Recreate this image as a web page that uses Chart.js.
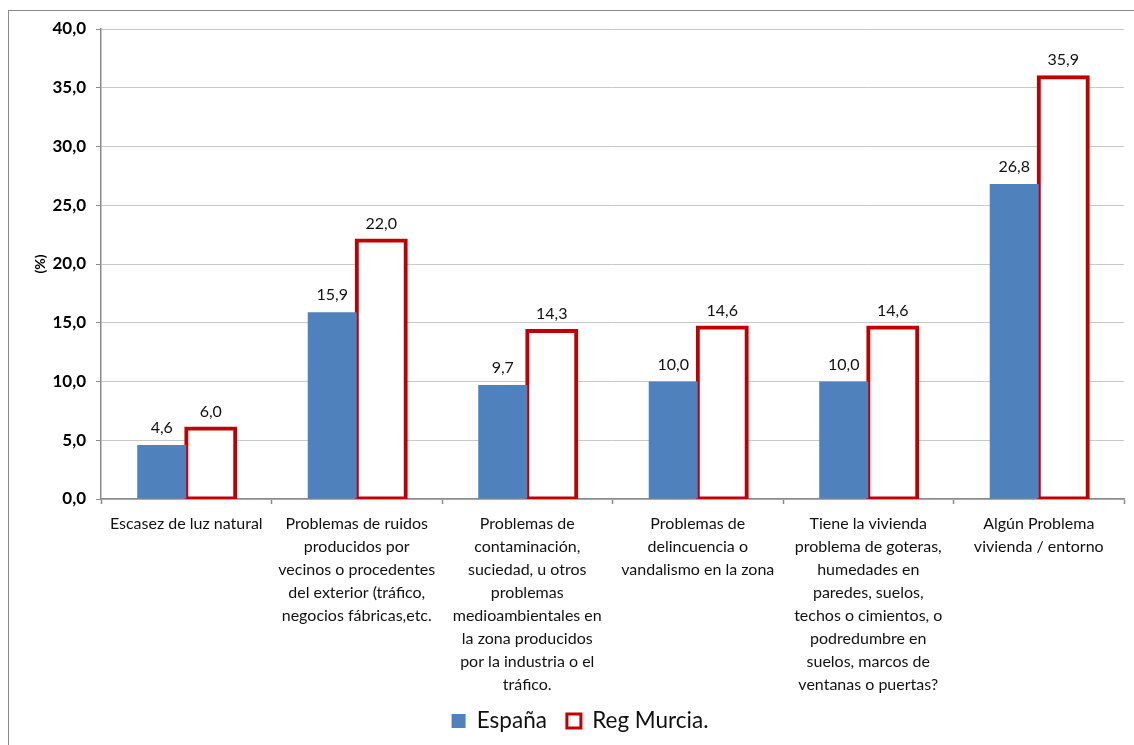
<!DOCTYPE html>
<html>
<head>
<meta charset="utf-8">
<script src="https://cdn.jsdelivr.net/npm/chart.js@4.4.1/dist/chart.umd.min.js"></script>
<style>
  html, body { margin: 0; padding: 0; background: #fff; }
  #wrap { position: relative; width: 1134px; height: 745px; overflow: hidden; background: #fff; }
  #frame { position: absolute; left: 8px; top: 10px; width: 2000px; height: 2000px;
           border-left: 1px solid #8a8a8a; border-top: 1px solid #8a8a8a; }
  #chart { position: absolute; left: 0; top: 0; }
</style>
</head>
<body>
<div id="wrap">
  <div id="frame"></div>
  <canvas id="chart" width="1134" height="745"></canvas>
</div>
<script>
const categories = [
  ["Escasez de luz natural"],
  ["Problemas de ruidos", "producidos por", "vecinos o procedentes", "del exterior (tráfico,", "negocios fábricas,etc."],
  ["Problemas de", "contaminación,", "suciedad, u otros", "problemas", "medioambientales en", "la zona producidos", "por la industria o el", "tráfico."],
  ["Problemas de", "delincuencia o", "vandalismo en la zona"],
  ["Tiene la vivienda", "problema de goteras,", "humedades en", "paredes, suelos,", "techos o cimientos, o", "podredumbre en", "suelos, marcos de", "ventanas o puertas?"],
  ["Algún Problema", "vivienda / entorno"]
];
const seriesNames = ["España", "Reg Murcia."];
const espana = [4.6, 15.9, 9.7, 10.0, 10.0, 26.8];
const murcia = [6.0, 22.0, 14.3, 14.6, 14.6, 35.9];
const yTicks = [0, 5, 10, 15, 20, 25, 30, 35, 40];
const yTitle = "(%)";

const FONT = "Lato, 'Open Sans', sans-serif";
const fmt = v => v.toFixed(1).replace('.', ',');

const dataLabels = {
  id: 'dataLabels',
  afterDatasetsDraw(chart) {
    const ctx = chart.ctx;
    ctx.save();
    ctx.font = "16px " + FONT;
    ctx.fillStyle = "#111";
    ctx.textAlign = "center";
    ctx.textBaseline = "middle";
    chart.data.datasets.forEach((ds, di) => {
      const meta = chart.getDatasetMeta(di);
      meta.data.forEach((el, i) => {
        ctx.fillText(fmt(ds.data[i]), el.x, el.y - 17);
      });
    });
    ctx.restore();
  }
};

const layoutTweak = {
  id: 'layoutTweak',
  afterLayout(chart) {
    if (chart.legend) {
      chart.legend.left += 18; chart.legend.right += 18;
      chart.legend.top -= 2.75; chart.legend.bottom -= 2.75;
    }
    if (chart.scales.x) { chart.scales.x.bottom = chart.height; }
  }
};

new Chart(document.getElementById('chart'), {
  type: 'bar',
  data: {
    labels: categories,
    datasets: [
      {
        label: seriesNames[0],
        data: espana,
        backgroundColor: '#4f81bd',
        borderWidth: 0,
        inflateAmount: 0,
        categoryPercentage: 0.575,
        barPercentage: 1.0
      },
      {
        label: seriesNames[1],
        data: murcia,
        backgroundColor: '#ffffff',
        borderColor: '#c00000',
        borderWidth: 4,
        borderSkipped: false,
        inflateAmount: 2,
        categoryPercentage: 0.575,
        barPercentage: 1.0
      }
    ]
  },
  options: {
    responsive: false,
    animation: false,
    devicePixelRatio: 1,
    layout: { padding: { left: 0, right: 10, top: 29, bottom: 0 } },
    plugins: {
      tooltip: { enabled: false },
      legend: {
        position: 'bottom',
        labels: {
          font: { family: FONT, size: 22.5 },
          color: '#111',
          boxWidth: 14,
          boxHeight: 14,
          padding: 20,
          generateLabels(chart) {
            return chart.data.datasets.map((ds, i) => ({
              text: ds.label,
              fillStyle: ds.backgroundColor,
              strokeStyle: ds.borderColor || ds.backgroundColor,
              lineWidth: i === 1 ? 3 : 0,
              hidden: false,
              datasetIndex: i,
              fontColor: '#111'
            }));
          }
        }
      }
    },
    scales: {
      x: {
        grid: {
          offset: true,
          drawOnChartArea: false,
          drawTicks: true,
          tickLength: 5,
          tickColor: '#8a8a8a',
          tickWidth: 1.5
        },
        border: { color: '#8a8a8a', width: 1.5 },
        ticks: {
          autoSkip: false,
          maxRotation: 0,
          minRotation: 0,
          padding: 8,
          color: '#111',
          font: { family: FONT, size: 16, lineHeight: 1.4375 }
        },
        afterFit(scale) { scale.height = 193.5; }
      },
      y: {
        min: 0,
        max: 40,
        afterBuildTicks(scale) { scale.ticks = yTicks.map(v => ({ value: v })); },
        grid: {
          color: '#c8c8c8',
          lineWidth: 1,
          tickLength: 5,
          tickColor: '#8a8a8a'
        },
        border: { color: '#8a8a8a', width: 1.5 },
        ticks: {
          padding: 10,
          color: '#000',
          font: { family: FONT, size: 17, weight: 'bold' },
          callback: v => fmt(v)
        },
        title: {
          display: true,
          text: yTitle,
          color: '#000',
          font: { family: FONT, size: 14, weight: 'bold' },
          padding: { top: 32, bottom: 0 }
        },
        afterFit(scale) { scale.width = 101; }
      }
    }
  },
  plugins: [dataLabels, layoutTweak]
});
</script>
</body>
</html>
